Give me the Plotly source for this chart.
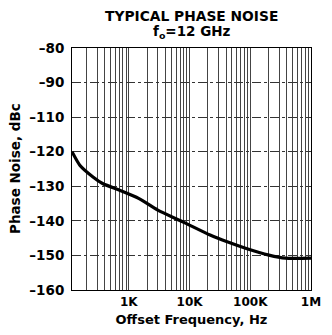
import plotly.graph_objects as go
import numpy as np

# Data (offset frequency in Hz, phase noise in dBc)
freq_hz = [116, 156, 257, 370, 690, 1450, 3000, 8200, 21800, 40600, 86000, 203000, 380000, 1000000]
phase_noise_dbc = [-120.0, -123.9, -127.3, -129.2, -131.1, -133.5, -136.9, -140.5, -144.1, -146.0, -148.0, -149.9, -150.8, -150.8]

# Y tick positions and labels as printed on the reference (note: it skips "-100")
y_tickvals = [-160, -150, -140, -130, -120, -110, -100, -90]
y_ticktext = ["–160", "–150", "–140", "–130", "–120", "–110", "–90", "–80"]

# X ticks: decade labels
x_label_vals = [1e3, 1e4, 1e5, 1e6]
x_label_text = ["1K", "10K", "100K", "1M"]

grid_vals = []
grid_text = []
for dec in [100, 1e3, 1e4, 1e5]:
    for m in range(1, 10):
        grid_vals.append(dec * m)
        grid_text.append("")
grid_vals.append(1e6)
grid_text.append("")
for v, t in zip(x_label_vals, x_label_text):
    grid_text[grid_vals.index(v)] = t

FONT = "DejaVu Sans, Liberation Sans, Arial, sans-serif"
FS = 13.5

fig = go.Figure()
fig.add_trace(go.Scatter(
    x=freq_hz, y=phase_noise_dbc, mode="lines",
    line=dict(color="black", width=3.2, shape="spline", smoothing=0.6),
    showlegend=False, hoverinfo="skip",
))

fig.update_layout(
    width=316, height=319,
    margin=dict(l=64, r=13, t=40, b=37, autoexpand=False),
    paper_bgcolor="white", plot_bgcolor="white",
    font=dict(family=FONT, color="black"),
    annotations=[
        dict(text="<b>TYPICAL PHASE NOISE</b>", x=0.5, xref="paper", y=1, yref="paper",
             yanchor="middle", yshift=32, showarrow=False,
             font=dict(size=13.8, family=FONT)),
        dict(text="<b>f<sub>o</sub>=12 GHz</b>", x=0.5, xref="paper", y=1, yref="paper",
             yanchor="middle", yshift=16, showarrow=False,
             font=dict(size=FS, family=FONT)),
        dict(text="<b>Phase Noise, dBc</b>", x=0, xref="paper", y=0.5, yref="paper",
             xanchor="center", yanchor="middle", xshift=-57, textangle=-90, showarrow=False,
             font=dict(size=FS, family=FONT)),
    ],
)

fig.update_xaxes(
    type="log", range=[np.log10(116), 6], automargin=False,
    tickmode="array", tickvals=grid_vals, ticktext=grid_text,
    ticks="", showgrid=True, gridcolor="#444", gridwidth=1,
    showline=True, linecolor="black", linewidth=1, mirror=True,
    tickfont=dict(size=12, family=FONT, weight="bold"), ticklabelstandoff=1,
    ticklabeloverflow="allow",
    title=dict(text="<b>Offset Frequency, Hz</b>", font=dict(size=13, family=FONT), standoff=6),
    zeroline=False,
)
fig.update_yaxes(
    range=[-160, -90], automargin=False,
    tickmode="array", tickvals=y_tickvals, ticktext=y_ticktext,
    ticks="", showgrid=True, gridcolor="#333", gridwidth=1, griddash="dashdot",
    showline=True, linecolor="black", linewidth=1, mirror=True,
    tickfont=dict(size=FS, family=FONT, weight="bold"), ticklabelstandoff=4,
    ticklabeloverflow="allow",
    zeroline=False,
)

fig.write_html("out.html")
